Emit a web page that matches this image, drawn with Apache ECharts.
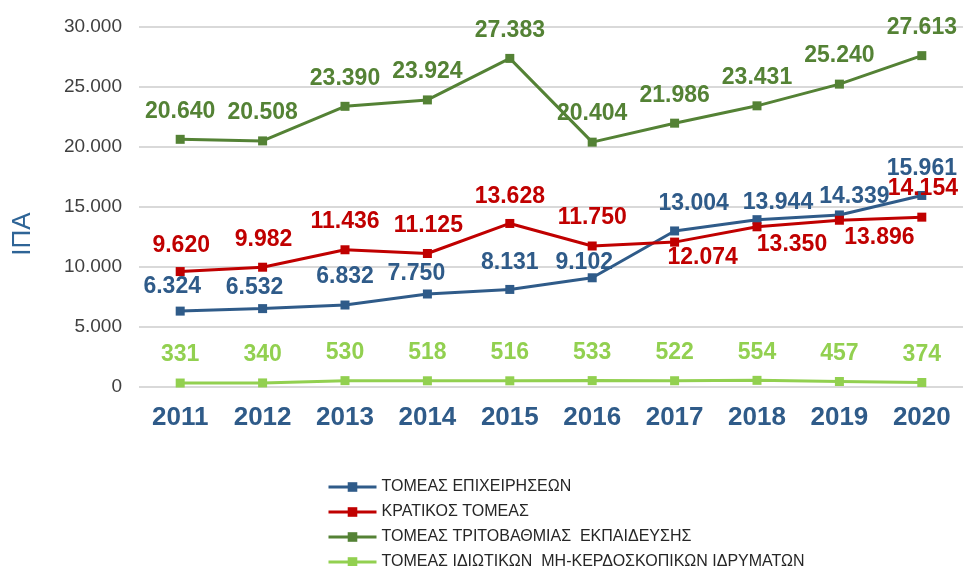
<!DOCTYPE html>
<html>
<head>
<meta charset="utf-8">
<script src="https://cdn.jsdelivr.net/npm/echarts@6/dist/echarts.min.js"></script>
<style>
html,body{margin:0;padding:0;background:#fff;}
#chart{width:963px;height:566px;}
</style>
</head>
<body>
<div id="chart"></div>
<script>
// ---- data ----
const years = ['2011','2012','2013','2014','2015','2016','2017','2018','2019','2020'];
const seriesNames = [
  'ΤΟΜΕΑΣ ΕΠΙΧΕΙΡΗΣΕΩΝ',
  'ΚΡΑΤΙΚΟΣ ΤΟΜΕΑΣ',
  'ΤΟΜΕΑΣ ΤΡΙΤΟΒΑΘΜΙΑΣ  ΕΚΠΑΙΔΕΥΣΗΣ',
  'ΤΟΜΕΑΣ ΙΔΙΩΤΙΚΩΝ  ΜΗ-ΚΕΡΔΟΣΚΟΠΙΚΩΝ ΙΔΡΥΜΑΤΩΝ'
];
const business = [6324, 6532, 6832, 7750, 8131, 9102, 13004, 13944, 14339, 15961];
const government = [9620, 9982, 11436, 11125, 13628, 11750, 12074, 13350, 13896, 14154];
const higherEducation = [20640, 20508, 23390, 23924, 27383, 20404, 21986, 23431, 25240, 27613];
const privateNonProfit = [331, 340, 530, 518, 516, 533, 522, 554, 457, 374];
const yTicks = [0, 5000, 10000, 15000, 20000, 25000, 30000];
const yAxisName = 'ΙΠΑ';

// ---- label placement tweaks (style only) ----
const offBusiness = [[-8,4],[-8,7],[0,0],[-11,8],[0,1],[-8,13],[19,1],[21,11],[15,10],[0,1]];
const offGovernment = [[1,2],[1,0],[0,0],[1,0],[0,1],[0,0],[28,44],[35,46],[40,45],[1,0]];
const offHigher = [[0,0],[0,0],[0,0],[0,0],[0,0],[0,0],[0,0],[0,0],[0,0],[0,0]];
const offPrivate = [[0,0],[0,0],[0,0],[0,0],[0,0],[0,0],[0,0],[0,0],[0,0],[0,0]];

const colors = ['#2F5B89', '#C00000', '#548235', '#92D050'];
const FONT = '"Liberation Sans", Arial, sans-serif';

function fmt(v){
  return String(v).replace(/\B(?=(\d{3})+(?!\d))/g, '.');
}

function makeSeries(name, values, color, offsets){
  return {
    name: name,
    type: 'line',
    symbol: 'rect',
    symbolSize: 9,
    lineStyle: {width: 3, color: color},
    itemStyle: {color: color},
    data: values.map((v, i) => ({
      value: v,
      label: {offset: offsets[i]}
    })),
    label: {
      show: true,
      position: 'top',
      distance: 12,
      color: color,
      fontFamily: FONT,
      fontWeight: 'bold',
      fontSize: 23,
      formatter: p => fmt(p.value)
    },
    emphasis: {disabled: true},
    animation: false
  };
}

const chart = echarts.init(document.getElementById('chart'), null, {renderer: 'canvas'});
chart.setOption({
  backgroundColor: '#ffffff',
  animation: false,
  grid: {left: 139, top: 27, width: 828, height: 360, containLabel: false},
  legend: {
    orient: 'vertical',
    left: 327,
    top: 479,
    height: 100,
    padding: 0,
    itemWidth: 48,
    itemHeight: 12,
    itemGap: 9,
    lineStyle: {width: 3},
    textStyle: {fontFamily: FONT, fontSize: 16, color: '#262626'},
    data: seriesNames
  },
  graphic: [{
    type: 'text',
    x: 23,
    y: 234,
    rotation: Math.PI / 2,
    style: {
      text: yAxisName,
      fontFamily: FONT,
      fontSize: 26,
      fill: '#2E6496',
      align: 'center',
      verticalAlign: 'middle'
    }
  }],
  xAxis: {
    type: 'category',
    data: years,
    boundaryGap: true,
    axisLine: {show: false},
    axisTick: {show: false},
    axisLabel: {
      margin: 18,
      fontFamily: FONT,
      fontWeight: 'bold',
      fontSize: 26,
      color: '#2F5B89'
    }
  },
  yAxis: {
    type: 'value',
    min: yTicks[0],
    max: yTicks[yTicks.length - 1],
    interval: yTicks[1] - yTicks[0],
    axisLine: {show: false},
    axisTick: {show: false},
    splitLine: {lineStyle: {color: '#D9D9D9', width: 2}},
    axisLabel: {
      margin: 17,
      fontFamily: FONT,
      fontSize: 19,
      color: '#404040',
      formatter: v => fmt(v)
    }
  },
  series: [
    makeSeries(seriesNames[0], business, colors[0], offBusiness),
    makeSeries(seriesNames[1], government, colors[1], offGovernment),
    makeSeries(seriesNames[2], higherEducation, colors[2], offHigher),
    makeSeries(seriesNames[3], privateNonProfit, colors[3], offPrivate)
  ]
});
</script>
</body>
</html>
